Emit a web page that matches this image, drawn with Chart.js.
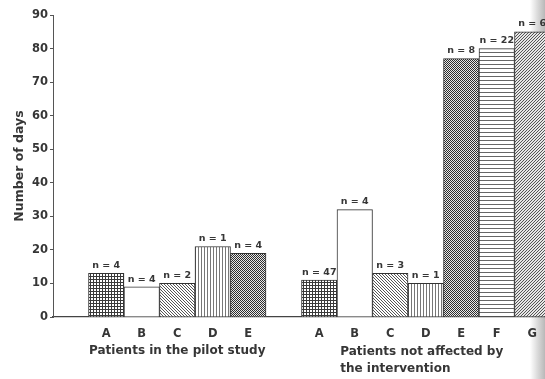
<!DOCTYPE html>
<html>
<head>
<meta charset="utf-8">
<script src="https://cdn.jsdelivr.net/npm/chart.js@4/dist/chart.umd.min.js"></script>
<style>
  html, body { margin: 0; padding: 0; overflow: hidden; }
  body { width: 545px; height: 379px;
    background: linear-gradient(to right, #fff 0px, #fff 530px, #d8d8d8 538px, #b8b8b8 545px); }
  #wrap { position: absolute; left: 0; top: 0; width: 550px; height: 379px; }
</style>
</head>
<body>
<div id="wrap"><canvas id="c" width="550" height="379"></canvas></div>
<script>
// ---- data ----
const pilotLetters = ['A', 'B', 'C', 'D', 'E'];
const pilotValues = [13, 9, 10, 21, 19];
const pilotN = ['n = 4', 'n = 4', 'n = 2', 'n = 1', 'n = 4'];

const notAffectedLetters = ['A', 'B', 'C', 'D', 'E', 'F', 'G'];
const notAffectedValues = [11, 32, 13, 10, 77, 80, 85];
const notAffectedN = ['n = 47', 'n = 4', 'n = 3', 'n = 1', 'n = 8', 'n = 22', 'n = 6'];

const groupTitles = [['Patients in the pilot study'], ['Patients not affected by', 'the intervention']];
const yTitle = 'Number of days';
const yMin = 0, yMax = 90, yStep = 10;

// ---- build table (empty slot before each group) ----
const categories = [''].concat(pilotLetters, [''], notAffectedLetters);
const values = [null].concat(pilotValues, [null], notAffectedValues);
const nLabels = [''].concat(pilotN, [''], notAffectedN);
const letterOf = categories;

// ---- patterns ----
function makePattern(kind) {
  const s = kind === 'F' ? 4 : 3;
  const c = document.createElement('canvas');
  c.width = s; c.height = s;
  const g = c.getContext('2d');
  g.fillStyle = '#ffffff';
  g.fillRect(0, 0, s, s);
  if (kind === 'A') {           // fine grid
    g.fillStyle = '#3a3a3a';
    g.fillRect(0, 0, s, 1);
    g.fillRect(0, 0, 1, s);
  } else if (kind === 'C') {    // diagonal "\"
    g.fillStyle = '#555';
    for (let i = 0; i < s; i++) g.fillRect(i, i, 1, 1);
  } else if (kind === 'D') {    // vertical lines
    g.fillStyle = '#777';
    g.fillRect(0, 0, 1, s);
  } else if (kind === 'E') {    // dense checker
    const c2 = document.createElement('canvas');
    c2.width = 2; c2.height = 2;
    const h = c2.getContext('2d');
    h.fillStyle = '#e8e8e8'; h.fillRect(0, 0, 2, 2);
    h.fillStyle = '#2e2e2e'; h.fillRect(0, 0, 1, 1); h.fillRect(1, 1, 1, 1);
    return g.createPattern(c2, 'repeat');
  } else if (kind === 'F') {    // horizontal lines
    g.fillStyle = '#666';
    g.fillRect(0, 0, s, 1);
  } else if (kind === 'G') {    // diagonal "/"
    g.fillStyle = '#e6e6e6'; g.fillRect(0, 0, s, s);
    g.fillStyle = '#555';
    for (let i = 0; i < s; i++) g.fillRect(s - 1 - i, i, 1, 1);
  } else {
    return '#ffffff';
  }
  return g.createPattern(c, 'repeat');
}
const patterns = {};
['A', 'B', 'C', 'D', 'E', 'F', 'G'].forEach(k => patterns[k] = makePattern(k));
const fills = letterOf.map(l => l ? patterns[l] : 'rgba(0,0,0,0)');

const textColor = '#363636';
const fontFam = '"DejaVu Sans", "Liberation Sans", sans-serif';

// ---- plugin: n labels + group titles ----
const annot = {
  id: 'annot',
  afterDatasetsDraw(chart) {
    const ctx = chart.ctx;
    const meta = chart.getDatasetMeta(0);
    ctx.save();
    ctx.fillStyle = textColor;
    ctx.font = 'bold 9.5px ' + fontFam;
    ctx.textAlign = 'center';
    ctx.textBaseline = 'bottom';
    meta.data.forEach((bar, i) => {
      if (values[i] == null) return;
      ctx.fillText(nLabels[i], bar.x, bar.y - 3);
    });
    // group titles
    const xs = chart.scales.x;
    ctx.font = 'bold 12px ' + fontFam;
    ctx.textBaseline = 'middle';
    const g1c = (xs.getPixelForValue(1) + xs.getPixelForValue(pilotLetters.length)) / 2;
    ctx.textAlign = 'center';
    ctx.fillText(groupTitles[0][0], g1c, 351);
    const g2l = xs.getPixelForValue(pilotLetters.length + 2) + 21;
    ctx.textAlign = 'left';
    groupTitles[1].forEach((t, k) => ctx.fillText(t, g2l, 352 + k * 17));
    ctx.restore();
  }
};

new Chart(document.getElementById('c'), {
  type: 'bar',
  data: {
    labels: categories,
    datasets: [{
      data: values,
      backgroundColor: fills,
      borderColor: letterOf.map(l => l ? '#333' : 'rgba(0,0,0,0)'),
      borderWidth: 1,
      borderSkipped: 'bottom',
      barPercentage: 1,
      categoryPercentage: 1
    }]
  },
  options: {
    responsive: false,
    animation: false,
    devicePixelRatio: 1,
    layout: { padding: { top: 15, right: 0, bottom: 0, left: 0 } },
    plugins: { legend: { display: false }, tooltip: { enabled: false } },
    scales: {
      x: {
        type: 'category',
        offset: true,
        grid: { display: false, drawTicks: false },
        border: { display: true, color: '#444', width: 1.2 },
        ticks: { color: textColor, font: { family: fontFam, size: 11.5, weight: 'bold' }, padding: 10, autoSkip: false, maxRotation: 0 },
        afterFit(s) { s.height = 62; }
      },
      y: {
        min: yMin, max: yMax,
        grid: { drawOnChartArea: false, drawTicks: true, tickLength: 3, color: '#555' },
        border: { display: true, color: '#555', width: 1 },
        ticks: { stepSize: yStep, color: textColor, padding: 2, font: { family: fontFam, size: 11.5, weight: 'bold' } },
        title: { display: true, text: yTitle, color: textColor, font: { family: fontFam, size: 12.5, weight: 'bold' }, padding: { top: 12, bottom: 0 } },
        afterFit(s) { s.width = 53; }
      }
    }
  },
  plugins: [annot]
});
</script>
</body>
</html>
